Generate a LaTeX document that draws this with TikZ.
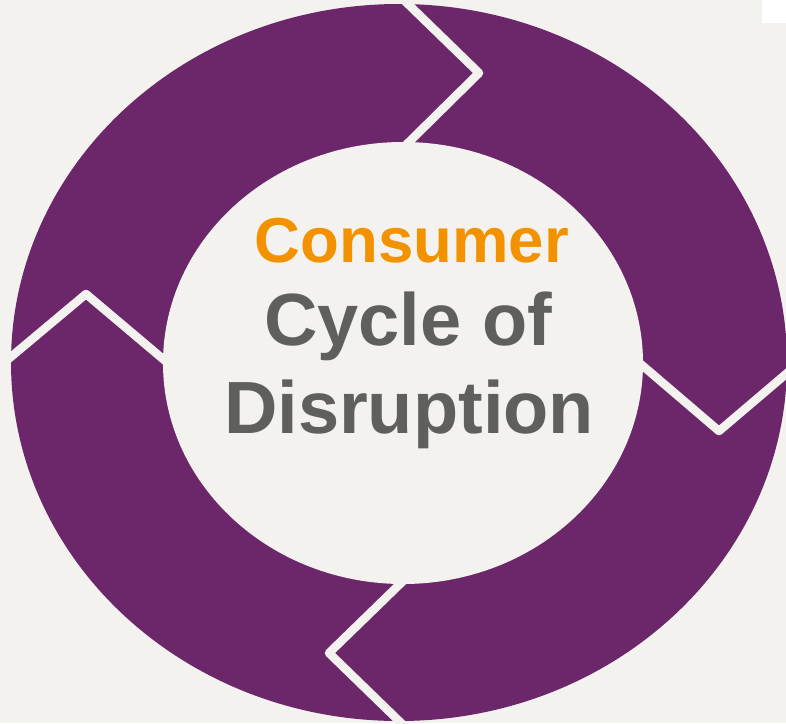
\documentclass[tikz,border=0pt]{standalone}
\usepackage{fontspec}
\setmainfont{Liberation Sans}
\definecolor{bgc}{HTML}{F3F2EF}
\definecolor{ringc}{HTML}{6B276A}
\definecolor{orangec}{HTML}{F39200}
\definecolor{greyc}{HTML}{5F5F5E}
\tikzset{
  sep/.style={draw=bgc, line width=8.5pt, line join=round, shorten <=-8pt, shorten >=-8pt},
  title1/.style={anchor=base, text=orangec, font=\fontsize{63.5}{64}\selectfont\bfseries, inner sep=0pt},
  title2/.style={anchor=base, text=greyc, font=\fontsize{74}{74}\selectfont\bfseries, inner sep=0pt}
}
\begin{document}
\begin{tikzpicture}[x=1pt,y=-1pt]
\useasboundingbox (0,0) rectangle (786,723);
\fill[bgc] (0,0) rectangle (786,723);
\fill[white] (762,0) rectangle (786,23);
% ring
\fill[ringc] (399,362.5) ellipse [x radius=388, y radius=358.5];
\fill[bgc] (403,363) ellipse [x radius=240, y radius=221];
% separators
\coordinate (t1) at (409,5);   \coordinate (t2) at (479,73);  \coordinate (t3) at (409,142);
\coordinate (r1) at (643,366); \coordinate (r2) at (719,431); \coordinate (r3) at (786,374);
\coordinate (b1) at (400,584); \coordinate (b2) at (329,653); \coordinate (b3) at (398,720);
\coordinate (l1) at (12,356);  \coordinate (l2) at (86,294);  \coordinate (l3) at (163,359);
\draw[sep] (t1) -- (t2) -- (t3);
\draw[sep] (r1) -- (r2) -- (r3);
\draw[sep] (b1) -- (b2) -- (b3);
\draw[sep] (l1) -- (l2) -- (l3);
% text
\node[title1] (consumer) at (412,262) {Consumer};
\node[title2] (cycle) at (408,345) {Cycle of};
\node[title2] (disruption) at (409,433) {Disruption};
\end{tikzpicture}
\end{document}
